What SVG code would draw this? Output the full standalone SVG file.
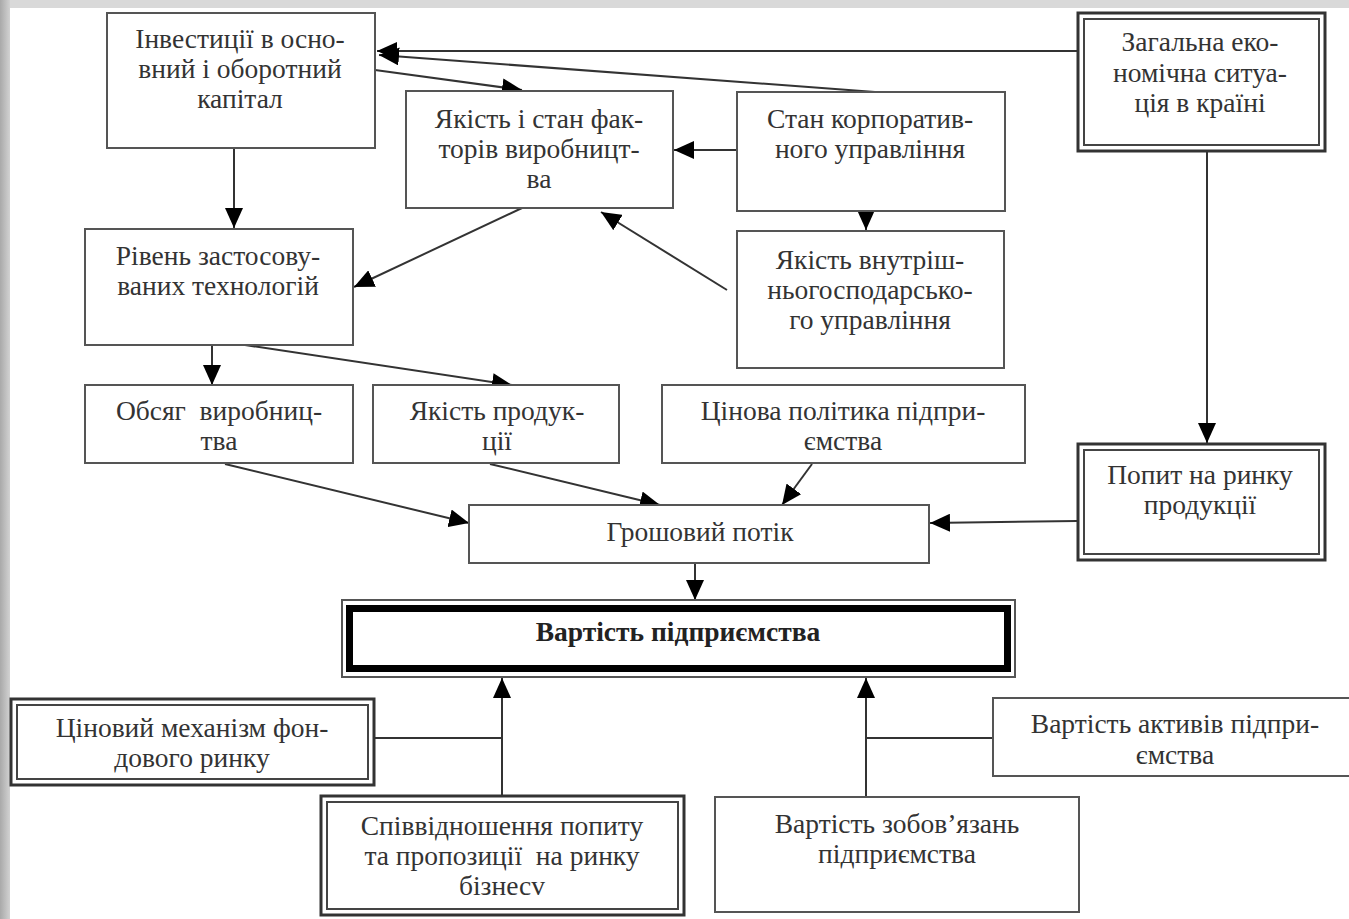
<svg xmlns="http://www.w3.org/2000/svg" width="1349" height="919" viewBox="0 0 1349 919">
<style>
.box{fill:#fff;stroke:#555;stroke-width:2}
.dbo{fill:#fff;stroke:#333;stroke-width:3}
.dbi{fill:none;stroke:#444;stroke-width:2}
.t{font-family:"Liberation Serif","Times New Roman",serif;font-size:27.5px;fill:#333;text-anchor:middle}
.b{font-weight:bold;fill:#222}
.c{fill:none;stroke:#333;stroke-width:2}
</style>
<defs>
<marker id="ah" viewBox="0 0 20 18" refX="20" refY="9" markerWidth="20" markerHeight="18" markerUnits="userSpaceOnUse" orient="auto">
<path d="M0,0 L20,9 L0,18 z" fill="#000"/>
</marker>
<linearGradient id="lg" x1="0" x2="1" y1="0" y2="0">
<stop offset="0" stop-color="#a9a9a9"/><stop offset="1" stop-color="#d2d2d2"/>
</linearGradient>
</defs>
<rect width="1349" height="919" fill="#fff"/>
<rect x="0" y="0" width="1349" height="8" fill="#d9d9d9"/>
<rect x="0" y="0" width="10" height="919" fill="url(#lg)"/>

<g id="connectors" class="c">
<line x1="1077" y1="51" x2="377" y2="51" marker-end="url(#ah)"/>
<line x1="875" y1="92" x2="379" y2="55" marker-end="url(#ah)"/>
<line x1="375" y1="70" x2="522" y2="90" marker-end="url(#ah)"/>
<line x1="737" y1="150" x2="674" y2="150" marker-end="url(#ah)"/>
<line x1="866" y1="211" x2="866" y2="230" marker-end="url(#ah)"/>
<line x1="727" y1="290" x2="601" y2="212" marker-end="url(#ah)"/>
<line x1="522" y1="208" x2="354" y2="287" marker-end="url(#ah)"/>
<line x1="234" y1="148" x2="234" y2="228" marker-end="url(#ah)"/>
<line x1="212" y1="345" x2="212" y2="385" marker-end="url(#ah)"/>
<line x1="245" y1="345" x2="512" y2="385" marker-end="url(#ah)"/>
<line x1="225" y1="464" x2="469" y2="523" marker-end="url(#ah)"/>
<line x1="490" y1="464" x2="660" y2="505" marker-end="url(#ah)"/>
<line x1="812" y1="464" x2="782" y2="505" marker-end="url(#ah)"/>
<line x1="1077" y1="521" x2="930" y2="523" marker-end="url(#ah)"/>
<line x1="1207" y1="152" x2="1207" y2="443" marker-end="url(#ah)"/>
<line x1="695" y1="563" x2="695" y2="600" marker-end="url(#ah)"/>
<line x1="374" y1="738" x2="502" y2="738"/>
<line x1="502" y1="795" x2="502" y2="678" marker-end="url(#ah)"/>
<line x1="992" y1="738" x2="866" y2="738"/>
<line x1="866" y1="796" x2="866" y2="678" marker-end="url(#ah)"/>
</g>

<g id="n-investytsii">
<rect class="box" x="107" y="13" width="268" height="135"/>
<text class="t" x="240" y="48">Інвестиції в осно-</text>
<text class="t" x="240" y="78">вний і оборотний</text>
<text class="t" x="240" y="108">капітал</text>
</g>
<g id="n-yakist-faktoriv">
<rect class="box" x="406" y="91" width="267" height="117"/>
<text class="t" x="539" y="128">Якість і стан фак-</text>
<text class="t" x="539" y="158">торів виробницт-</text>
<text class="t" x="539" y="188">ва</text>
</g>
<g id="n-stan-korporatyvnoho">
<rect class="box" x="737" y="92" width="268" height="119"/>
<text class="t" x="870" y="128">Стан корпоратив-</text>
<text class="t" x="870" y="158">ного управління</text>
</g>
<g id="n-zahalna">
<rect class="dbo" x="1078" y="13" width="247" height="138"/>
<rect class="dbi" x="1084" y="19" width="235" height="126"/>
<text class="t" x="1200" y="51">Загальна еко-</text>
<text class="t" x="1200" y="82">номічна ситуа-</text>
<text class="t" x="1200" y="112">ція в країні</text>
</g>
<g id="n-riven">
<rect class="box" x="85" y="229" width="268" height="116"/>
<text class="t" x="218" y="265">Рівень застосову-</text>
<text class="t" x="218" y="295">ваних технологій</text>
</g>
<g id="n-vnutrishnohospodarskoho">
<rect class="box" x="737" y="231" width="267" height="137"/>
<text class="t" x="870" y="269">Якість внутріш-</text>
<text class="t" x="870" y="299">ньогосподарсько-</text>
<text class="t" x="870" y="329">го управління</text>
</g>
<g id="n-obsiah">
<rect class="box" x="85" y="385" width="268" height="78"/>
<text class="t" x="219" y="420" xml:space="preserve">Обсяг  виробниц-</text>
<text class="t" x="219" y="450">тва</text>
</g>
<g id="n-yakist-produktsii">
<rect class="box" x="373" y="385" width="246" height="78"/>
<text class="t" x="497" y="420">Якість продук-</text>
<text class="t" x="497" y="450">ції</text>
</g>
<g id="n-tsinova">
<rect class="box" x="662" y="385" width="363" height="78"/>
<text class="t" x="843" y="420">Цінова політика підпри-</text>
<text class="t" x="843" y="450">ємства</text>
</g>
<g id="n-popyt">
<rect class="dbo" x="1078" y="444" width="247" height="116"/>
<rect class="dbi" x="1084" y="450" width="235" height="104"/>
<text class="t" x="1200" y="484">Попит на ринку</text>
<text class="t" x="1200" y="514">продукції</text>
</g>
<g id="n-hroshovyi">
<rect class="box" x="469" y="505" width="460" height="58"/>
<text class="t" x="700" y="541">Грошовий потік</text>
</g>
<g id="n-vartist">
<rect fill="#fff" stroke="#555" stroke-width="2" x="342" y="600" width="673" height="77"/>
<rect fill="none" stroke="#000" stroke-width="7" x="349.5" y="608.5" width="658" height="60"/>
<text class="t b" x="678" y="641">Вартість підприємства</text>
</g>
<g id="n-tsinovyi-mekhanizm">
<rect class="dbo" x="11" y="699" width="363" height="86"/>
<rect class="dbi" x="17" y="705" width="351" height="74"/>
<text class="t" x="192" y="737">Ціновий механізм фон-</text>
<text class="t" x="192" y="767">дового ринку</text>
</g>
<g id="n-aktyviv">
<rect class="box" x="993" y="698" width="360" height="78"/>
<text class="t" x="1175" y="733">Вартість активів підпри-</text>
<text class="t" x="1175" y="764">ємства</text>
</g>
<g id="n-spivvidnoshennia">
<rect class="dbo" x="321" y="796" width="363" height="119"/>
<rect class="dbi" x="327" y="802" width="351" height="107"/>
<text class="t" x="502" y="835">Співвідношення попиту</text>
<text class="t" x="502" y="865" xml:space="preserve">та пропозиції  на ринку</text>
<text class="t" x="502" y="895">бізнесv</text>
</g>
<g id="n-zoboviazan">
<rect class="box" x="715" y="797" width="364" height="115"/>
<text class="t" x="897" y="833">Вартість зобов’язань</text>
<text class="t" x="897" y="863">підприємства</text>
</g>
</svg>
